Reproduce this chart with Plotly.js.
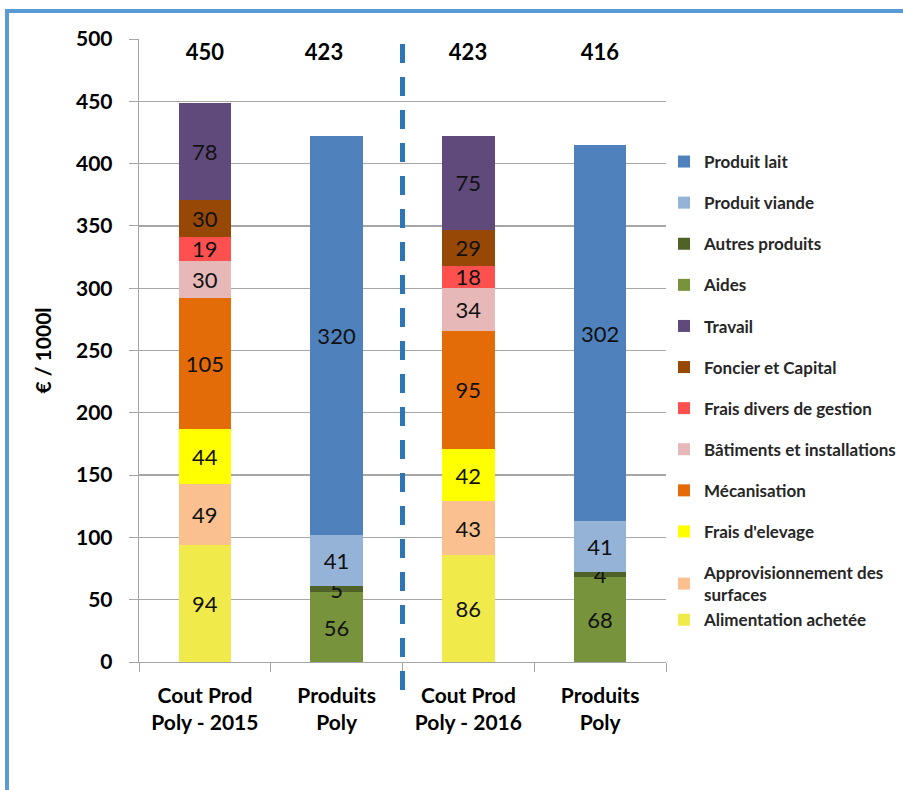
<!DOCTYPE html>
<html>
<head>
<meta charset="utf-8">
<script src="https://cdn.plot.ly/plotly-3.0.1.min.js"></script>
<style>
  html, body { margin: 0; padding: 0; background: #ffffff; }
  #chart { width: 903px; height: 790px; }
</style>
</head>
<body>
<div id="chart"></div>
<script>
// ---- Data ----
const categoryKeys = ["cout2015", "prod2015", "cout2016", "prod2016"];
const categoryLabels = ["Cout Prod<br>Poly - 2015", "Produits<br>Poly", "Cout Prod<br>Poly - 2016", "Produits<br>Poly"];

const alimentationAchetee   = [94, null, 86, null];
const approvisionnement     = [49, null, 43, null];
const fraisElevage          = [44, null, 42, null];
const mecanisation          = [105, null, 95, null];
const batiments             = [30, null, 34, null];
const fraisDivers           = [19, null, 18, null];
const foncierCapital        = [30, null, 29, null];
const travail               = [78, null, 75, null];
const aides                 = [null, 56, null, 68];
const autresProduits        = [null, 5, null, 4];
const produitViande         = [null, 41, null, 41];
const produitLait           = [null, 320, null, 302];

const totals = [450, 423, 423, 416];

const seriesNames = [
  "Alimentation achetée", "Approvisionnement des<br>surfaces", "Frais d'elevage", "Mécanisation",
  "Bâtiments et installations", "Frais divers de gestion", "Foncier et Capital", "Travail",
  "Aides", "Autres produits", "Produit viande", "Produit lait"
];
const seriesValues = [
  alimentationAchetee, approvisionnement, fraisElevage, mecanisation,
  batiments, fraisDivers, foncierCapital, travail,
  aides, autresProduits, produitViande, produitLait
];
const seriesColors = [
  "#f0eb4b", "#fac090", "#ffff00", "#e36c09",
  "#e6b9b8", "#ff5050", "#974806", "#604a7b",
  "#77933c", "#4f6228", "#95b3d7", "#4f81bd"
];
// the two bottom legend entries sit tight together in the reference
const legendGroups = ["g1", "g1", "g2", "g3", "g4", "g5", "g6", "g7", "g8", "g9", "g10", "g11"];

// ---- Layout constants ----
const W = 903, H = 790;
const M = { l: 139, r: 237, t: 39, b: 128, autoexpand: false };
const plotW = W - M.l - M.r, plotH = H - M.t - M.b;
const px2x = px => (px - M.l) / plotW;
const py2y = py => (H - M.b - py) / plotH;

const FONT = "Lato, 'Open Sans', sans-serif";

const traces = seriesNames.map((name, i) => ({
  type: "bar",
  name: name,
  legendgroup: legendGroups[i],
  legendrank: 100 - i,
  x: categoryKeys,
  y: seriesValues[i],
  marker: { color: seriesColors[i], line: { width: 0 } },
  texttemplate: "%{y}",
  textposition: "inside",
  insidetextanchor: "middle",
  textangle: 0,
  constraintext: "none",
  textfont: { family: FONT, size: 22, color: "#111111" },
  hoverinfo: "name+y"
}));

const annotations = totals.map((t, i) => ({
  x: categoryKeys[i], xref: "x",
  y: 500, yref: "y",
  yshift: -12,
  xshift: i === 1 ? -13 : 0,
  text: "<b>" + t + "</b>",
  showarrow: false,
  font: { family: FONT, size: 22, color: "#000000" },
  bgcolor: "#ffffff",
  width: 84, height: 44,
  xanchor: "center", yanchor: "middle"
}));

const shapes = [
  // dashed separator between the two years
  {
    type: "line", xref: "x", yref: "paper",
    x0: 1.5, x1: 1.5, y0: py2y(690), y1: py2y(35),
    line: { color: "#2e75b6", width: 5, dash: "19px,14px" },
    layer: "above"
  },
  // outer frame (left + top edges)
  {
    type: "line", xref: "paper", yref: "paper",
    x0: px2x(7), x1: px2x(7), y0: py2y(800), y1: py2y(9),
    line: { color: "#5b9bd5", width: 4 }
  },
  {
    type: "line", xref: "paper", yref: "paper",
    x0: px2x(5), x1: px2x(910), y0: py2y(11), y1: py2y(11),
    line: { color: "#5b9bd5", width: 4 }
  }
];

const layout = {
  width: W, height: H,
  margin: M,
  paper_bgcolor: "#ffffff",
  plot_bgcolor: "#ffffff",
  barmode: "stack",
  bargap: 0.6,
  showlegend: true,
  uniformtext: { mode: "show", minsize: 22 },
  font: { family: FONT, color: "#000000" },
  xaxis: {
    type: "category",
    tickmode: "array",
    tickvals: categoryKeys,
    ticktext: categoryLabels,
    tickson: "boundaries",
    ticks: "outside",
    ticklen: 9,
    tickcolor: "#a6a6a6",
    showline: true,
    linecolor: "#a6a6a6",
    linewidth: 1.3,
    showgrid: false,
    tickfont: { family: FONT, size: 21, weight: 700, color: "#000000" },
    ticklabelstandoff: 14,
    fixedrange: true
  },
  yaxis: {
    range: [0, 500],
    tickmode: "array",
    tickvals: [0, 50, 100, 150, 200, 250, 300, 350, 400, 450, 500],
    ticks: "outside",
    ticklen: 9,
    tickcolor: "#a6a6a6",
    showline: true,
    linecolor: "#a6a6a6",
    linewidth: 1.3,
    showgrid: true,
    gridcolor: "#a6a6a6",
    gridwidth: 1.3,
    zeroline: false,
    tickfont: { family: FONT, size: 21, weight: 700, color: "#000000" },
    ticklabelstandoff: 12,
    title: { text: "€ / 1000l", font: { family: FONT, size: 21, weight: 700, color: "#000000" }, standoff: 18 },
    fixedrange: true
  },
  legend: {
    x: px2x(664), xanchor: "left",
    y: py2y(391), yanchor: "middle",
    traceorder: "grouped",
    tracegroupgap: 16,
    font: { family: FONT, size: 17, weight: 700, color: "#262626" },
    bgcolor: "rgba(0,0,0,0)",
    itemwidth: 30
  },
  annotations: annotations,
  shapes: shapes
};

Plotly.newPlot("chart", traces, layout, { displayModeBar: false, staticPlot: true });
</script>
</body>
</html>
